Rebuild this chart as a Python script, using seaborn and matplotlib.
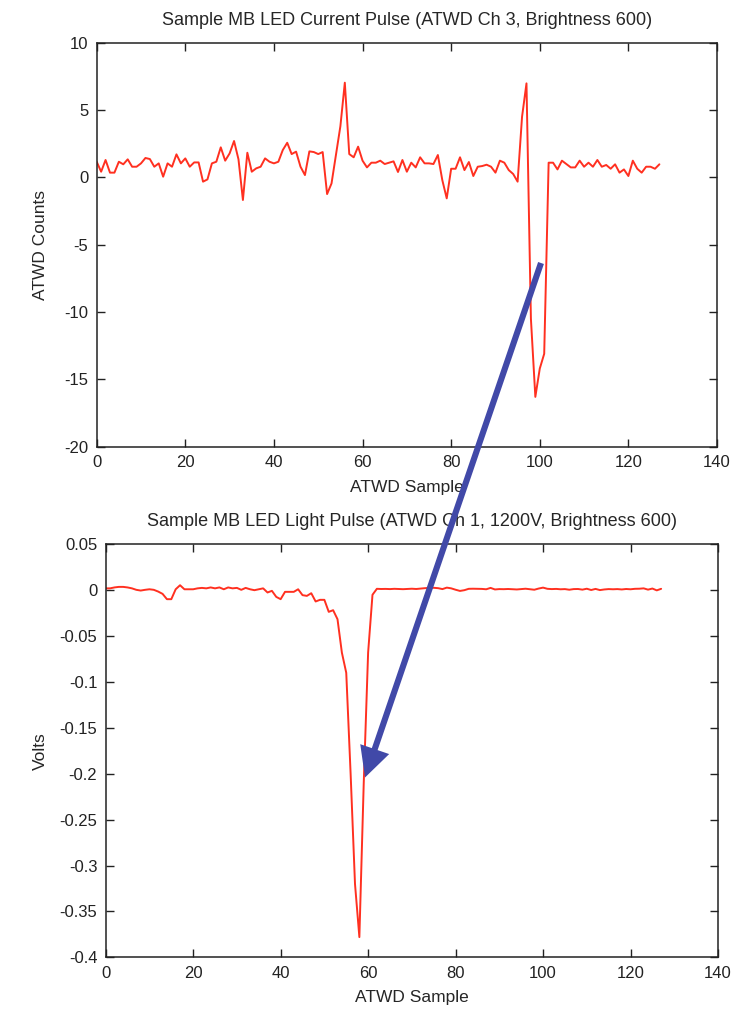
import numpy as np
import matplotlib
matplotlib.use("Agg")
import matplotlib.pyplot as plt
import seaborn as sns
from matplotlib.patches import FancyArrowPatch

# ATWD current pulse (channel 3), counts per sample
atwd_counts = [
    1.16, 0.42, 1.29, 0.35, 0.35, 1.16, 0.97, 1.34, 0.79, 0.79,
    1.04, 1.44, 1.36, 0.79, 1.04, 0.05, 1.04, 0.79, 1.71, 1.04,
    1.41, 0.79, 1.11, 1.11, -0.32, -0.15, 1.04, 1.16, 2.23, 1.24,
    1.78, 2.70, 1.34, -1.68, 1.83, 0.42, 0.67, 0.79, 1.41, 1.16,
    1.04, 1.16, 2.03, 2.57, 1.73, 1.91, 0.79, 0.17, 1.93, 1.88,
    1.73, 1.88, -1.24, -0.45, 1.70, 3.80, 7.03, 1.73, 1.49, 2.28,
    1.24, 0.74, 1.09, 1.09, 1.24, 0.99, 1.09, 1.19, 0.40, 1.29,
    0.42, 1.09, 0.74, 1.49, 1.04, 1.04, 0.99, 1.66, -0.20, -1.56,
    0.64, 0.64, 1.49, 0.54, 1.14, 0.10, 0.79, 0.84, 0.94, 0.79,
    0.35, 1.24, 1.09, 0.54, 0.25, -0.32, 4.50, 6.98, -10.5, -16.3,
    -14.2, -13.1, 1.09, 1.09, 0.59, 1.24, 0.99, 0.74, 0.74, 1.24,
    0.79, 1.09, 0.79, 1.29, 0.79, 0.92, 0.64, 0.97, 0.35, 0.59,
    0.10, 1.24, 0.64, 0.35, 0.79, 0.79, 0.64, 0.97,
]

# ATWD light pulse (channel 1, 1200V), volts per sample
light_volts = [
    0.0020, 0.0020, 0.0030, 0.0036, 0.0036, 0.0030, 0.0020, 0.0004, -0.0004, 0.0004,
    0.0010, 0.0004, -0.0015, -0.0040, -0.0098, -0.0098, 0.0010, 0.0054, 0.0010, 0.0010,
    0.0010, 0.0020, 0.0025, 0.0020, 0.0030, 0.0020, 0.0030, 0.0010, 0.0030, 0.0020,
    0.0025, 0.0004, 0.0025, 0.0010, 0.0000, 0.0010, 0.0020, -0.0025, -0.0007, -0.0073,
    -0.0098, -0.0018, -0.0018, -0.0018, 0.0010, -0.0054, -0.0062, -0.0033, -0.0123, -0.0105,
    -0.0105, -0.0236, -0.0218, -0.0316, -0.0680, -0.0900, -0.2000, -0.3200, -0.3780, -0.2100,
    -0.0680, -0.0050, 0.0015, 0.0013, 0.0014, 0.0012, 0.0015, 0.0013, 0.0011, 0.0014,
    0.0016, 0.0013, 0.0018, 0.0022, 0.0025, 0.0026, 0.0022, 0.0012, 0.0028, 0.0020,
    0.0005, -0.0008, 0.0000, 0.0015, 0.0016, 0.0015, 0.0014, 0.0010, 0.0025, 0.0008,
    0.0012, 0.0011, 0.0013, 0.0010, 0.0008, 0.0012, 0.0016, 0.0010, 0.0005, 0.0018,
    0.0028, 0.0015, 0.0012, 0.0014, 0.0010, 0.0012, 0.0005, 0.0012, 0.0013, 0.0006,
    0.0016, 0.0002, 0.0014, 0.0001, 0.0008, 0.0012, 0.0010, 0.0012, 0.0008, 0.0013,
    0.0010, 0.0015, 0.0016, 0.0020, 0.0006, 0.0018, -0.0002, 0.0015,
]

samples_top = list(range(len(atwd_counts)))
samples_bottom = list(range(len(light_volts)))

top_title = "Sample MB LED Current Pulse (ATWD Ch 3, Brightness 600)"
bottom_title = "Sample MB LED Light Pulse (ATWD Ch 1, 1200V, Brightness 600)"

sns.set_style("ticks")
plt.rcParams["font.family"] = ["Liberation Sans", "DejaVu Sans"]
plt.rcParams.update({
    "axes.unicode_minus": False,
    "xtick.direction": "in",
    "ytick.direction": "in",
    "xtick.top": True,
    "ytick.right": True,
    "xtick.major.size": 5.5,
    "ytick.major.size": 5.5,
    "xtick.major.width": 1.0,
    "ytick.major.width": 1.0,
    "axes.linewidth": 1.1,
    "axes.edgecolor": "#222222",
    "xtick.color": "#222222",
    "ytick.color": "#222222",
    "font.size": 12,
})

LINE_RED = "#ff3020"
ARROW_BLUE = "#4149a8"

W, H = 736, 1014
fig = plt.figure(figsize=(W / 100, H / 100), dpi=100)


def px_axes(left, top, right, bottom):
    return fig.add_axes([left / W, 1 - bottom / H, (right - left) / W, (bottom - top) / H])


ax1 = px_axes(96.7, 42.7, 717, 446.7)
ax2 = px_axes(105.7, 544.3, 718, 957.3)

sns.lineplot(x=samples_top, y=atwd_counts, ax=ax1, color=LINE_RED, lw=1.4)
sns.lineplot(x=samples_bottom, y=light_volts, ax=ax2, color=LINE_RED, lw=1.4)

ax1.set_xlim(0, 140)
ax1.set_ylim(-20, 10)
ax1.set_xticks(range(0, 141, 20))
ax1.set_yticks(range(-20, 11, 5))
ax1.set_title(top_title, fontsize=13, pad=13)
ax1.set_xlabel("ATWD Sample", fontsize=12.5, labelpad=7)
ax1.set_ylabel("ATWD Counts", fontsize=12.5, labelpad=12)

ax2.set_xlim(0, 140)
ax2.set_ylim(-0.4, 0.05)
ax2.set_xticks(range(0, 141, 20))
yt = [0.05, 0, -0.05, -0.1, -0.15, -0.2, -0.25, -0.3, -0.35, -0.4]
ax2.set_yticks(yt)
ax2.set_yticklabels(["0.05", "0", "-0.05", "-0.1", "-0.15", "-0.2", "-0.25", "-0.3", "-0.35", "-0.4"])
ax2.set_title(bottom_title, fontsize=13, pad=13)
ax2.set_xlabel("ATWD Sample", fontsize=12.5, labelpad=7)
ax2.set_ylabel("Volts", fontsize=12.5, labelpad=8)

for ax in (ax1, ax2):
    ax.tick_params(labelsize=12, pad=6)
    for s in ax.spines.values():
        s.set_visible(True)

# annotation arrow linking the current pulse to the light pulse
arrow = FancyArrowPatch(
    (541 / W, 1 - 263 / H), (365 / W, 1 - 777.5 / H),
    transform=fig.transFigure,
    arrowstyle="simple,head_length=1.08,head_width=1.1,tail_width=0.22",
    mutation_scale=20, shrinkA=0, shrinkB=0,
    color=ARROW_BLUE, lw=0, zorder=10,
)
fig.add_artist(arrow)

fig.savefig("out.png", dpi=100)
